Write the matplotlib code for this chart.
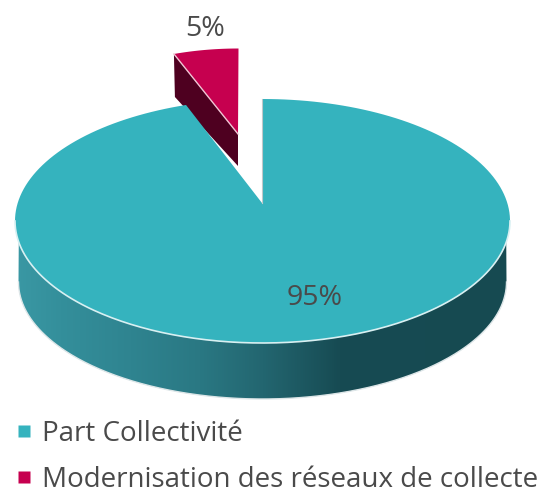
import numpy as np
import matplotlib
matplotlib.use("Agg")
import matplotlib.pyplot as plt
from matplotlib.colors import LinearSegmentedColormap, to_rgb
from matplotlib.lines import Line2D
from matplotlib.patches import Polygon

# data
categories = ["Part Collectivité", "Modernisation des réseaux de collecte"]
shares = [95, 5]
percent_labels = ["95%", "5%"]
colors = ["#35B3BE", "#C6004F"]

plt.rcParams["font.family"] = ["Open Sans", "DejaVu Sans"]
TEXT = "#4A4A4A"

fig = plt.figure(figsize=(5.44, 4.93), dpi=100)
ax = fig.add_axes([0, 0, 1, 1])

sweep = 360 * shares[1] / sum(shares)


def arc(cx, cy, rx, ry, a0, a1, n=200):
    """Ellipse points, angle clockwise from twelve o'clock."""
    p = np.radians(np.linspace(a0, a1, n))
    return np.column_stack([cx + rx * np.sin(p), cy - ry * np.cos(p)])


# geometry of the projected pie
TOP = dict(cx=262.5, cy=221.0, rx=247.5, ry=122.0)
BOT = dict(cx=262.5, cy=282.0, rx=244.0, ry=117.0)
TIP = (262.0, 203.0)

# outer wall of the large slice, shaded by horizontal position
t = arc(**TOP, a0=100, a1=260, n=300)
b = arc(**BOT, a0=270, a1=90, n=300)
wall_poly = Polygon(np.vstack([t, b]), closed=True, facecolor="none", edgecolor="none",
                    transform=ax.transData, zorder=1)
ax.add_patch(wall_poly)
x0, x1 = 15, 510
stops_x = [15, 60, 130, 200, 263, 340, 510]
stops_c = ["#3A98A4", "#348F9B", "#2F8490", "#2A7883", "#236670", "#174B53", "#164A51"]
cmap = LinearSegmentedColormap.from_list(
    "wall", [((x - x0) / (x1 - x0), to_rgb(c)) for x, c in zip(stops_x, stops_c)])
im = ax.imshow(np.linspace(0, 1, 512)[None, :], cmap=cmap, extent=[x0, x1, 405, 230],
               aspect="auto", zorder=1, interpolation="bilinear")
im.set_clip_path(wall_poly)
ax.plot(b[:, 0], b[:, 1], color="#DDE6E8", lw=1.0, zorder=1.5)

# top of the large slice
main_arc = arc(**TOP, a0=0, a1=360 - sweep)
ax.add_patch(Polygon(np.vstack([[TIP], main_arc]), closed=True, facecolor=colors[0],
                     edgecolor="none", zorder=2))
rim = arc(**TOP, a0=90, a1=270, n=200)
ax.plot(rim[:, 0], rim[:, 1], color="#D8F0F2", lw=1.2, zorder=2.5)
ax.plot([TIP[0], TIP[0]], [TIP[1], TOP["cy"] - TOP["ry"]], color="#BFC8CA", lw=0.8, zorder=2.5)

# exploded small slice
R = dict(cx=238.5, cy=160.5, rx=209.0, ry=112.0)
r_tip = np.array([238.0, 134.0])
r_arc = arc(**R, a0=360 - sweep, a1=360, n=40)
left = r_arc[0]
wall = np.array([left, left + [1, 43], r_tip + [0, 32], r_tip])
ax.add_patch(Polygon(wall, closed=True, facecolor="#4E0020", edgecolor="none", zorder=1.8))
ax.add_patch(Polygon(np.vstack([[r_tip], r_arc]), closed=True, facecolor=colors[1],
                     edgecolor="none", zorder=1.9))
ax.plot([left[0], r_tip[0]], [left[1], r_tip[1]], color="#F0C4D4", lw=1.0, zorder=1.95)

# percent labels
ax.text(315, 298, percent_labels[0], ha="center", va="center", fontsize=20.5, color=TEXT, zorder=5)
ax.text(205, 29, percent_labels[1], ha="center", va="center", fontsize=20.5, color=TEXT, zorder=5)

# legend
handles = [Line2D([], [], linestyle="none", marker="s", markersize=8.6,
                  markerfacecolor=c, markeredgecolor="none") for c in colors]
ax.legend(handles, categories, loc="upper left", bbox_to_anchor=(15.6 / 544, 1 - 420 / 493),
          frameon=False, fontsize=20, labelcolor=TEXT, handlelength=0.6,
          handletextpad=0.34, labelspacing=0.65, borderpad=0, borderaxespad=0)

ax.set_xlim(0, 544)
ax.set_ylim(493, 0)
ax.axis("off")

fig.savefig("out.png", dpi=100)
